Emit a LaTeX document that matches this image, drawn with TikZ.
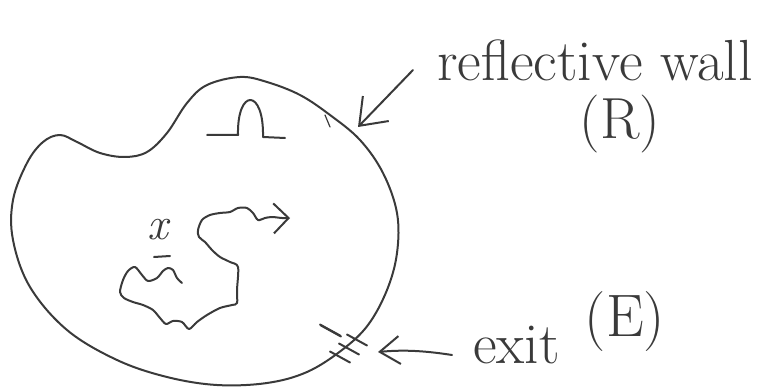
\documentclass[tikz,border=0pt]{standalone}
\usepackage{fontspec}
\usetikzlibrary{arrows.meta}
\definecolor{ink}{HTML}{3A3A3A}
\begin{document}
\begin{tikzpicture}[x=1pt,y=-1pt,
  pen/.style={draw=ink,line width=2pt,line cap=round,line join=round},
  hand/.style={text=ink,inner sep=0pt,font=\fontsize{58}{60}\selectfont}]
\useasboundingbox (0,0) rectangle (767,387);
% wall outline
\draw[pen] plot[smooth cycle,tension=0.6] coordinates{
 (60,135) (77,142) (100,153) (125,157) (147,152) (167,133) (187,103) (207,85)
 (240,77) (267,82) (300,95) (330,115) (360,140) (383,173) (397,213) (397,253)
 (387,290) (368,325) (342,350) (307,372) (267,383) (217,385) (167,377)
 (117,360) (67,330) (30,287) (13,240) (13,200) (27,163) (43,142)};
\draw[pen,line width=1.2pt] (325,115) -- (330,127);
% bump symbol
\draw[pen] (207,135) -- (238,135) .. controls (237,88) and (264,88) .. (263,137) -- (285,138);
% exit hatches
\foreach \cx/\cy in {331,357/340,349/349,340/357,330}{
  \draw[pen] (\cx-10,\cy-5.5) -- (\cx+10,\cy+5.5);}
% random walk
\draw[pen,-{Straight Barb[length=15pt,width=30pt]}] plot[smooth,tension=0.5] coordinates{
 (182,283) (177,278) (173,270) (168,268) (163,271) (157,278) (148,281) (142,275)
 (135,267) (128,271) (123,280) (120,292) (124,298) (133,302) (143,305) (153,310)
 (160,318) (166,324) (173,321) (182,322) (189,329) (197,322) (207,315) (220,308)
 (232,305) (237,303) (237,290) (238,267) (230,262) (220,257) (212,250) (205,242)
 (199,237) (198,230) (202,220) (210,215) (220,213) (230,212) (238,208) (247,208)
 (253,213) (258,220) (265,218) (272,217) (282,218) (290,218)};
\node[hand,font=\fontsize{46}{48}\selectfont\itshape] (xl) at (158,230) {x};
\draw[pen] (154,257) -- (170,256);
% labels
\node[hand,anchor=base west] (wall) at (437,81) {reflective wall};
\node[hand] (R) at (620,124) {(R)};
\node[hand,anchor=base west] (exit) at (473,363) {exit};
\node[hand,font=\fontsize{60}{62}\selectfont] (E) at (625,322) {(E)};
% arrows
\coordinate (rwfrom) at (413,70);
\coordinate (rwtip) at (358,127);
\draw[pen,-{Straight Barb[length=24pt,width=36pt]}] (rwfrom) -- (rwtip);
\coordinate (exfrom) at (452,355);
\coordinate (extip) at (378,352);
\draw[pen,-{Straight Barb[length=20pt,width=28pt]}] (exfrom) .. controls (420,350) and (400,350) .. (extip);
\end{tikzpicture}
\end{document}
